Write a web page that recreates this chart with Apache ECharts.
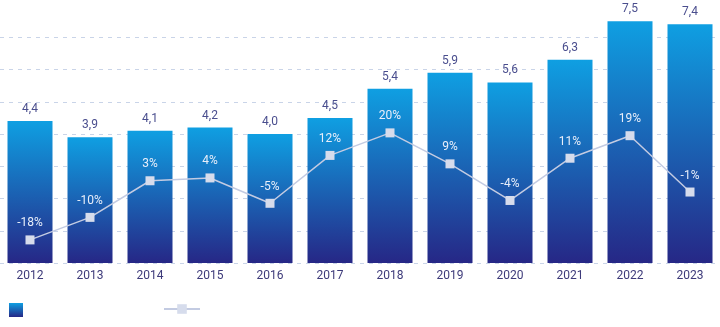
<!DOCTYPE html>
<html><head><meta charset="utf-8">
<script src="https://cdn.jsdelivr.net/npm/echarts@6/dist/echarts.min.js"></script>
<style>html,body{margin:0;padding:0;background:#fff}#c{width:720px;height:327px}</style>
</head><body><div id="c"></div>
<script>
const years = ['2012','2013','2014','2015','2016','2017','2018','2019','2020','2021','2022','2023'];
const volumes = [4.4, 3.9, 4.1, 4.2, 4.0, 4.5, 5.4, 5.9, 5.6, 6.3, 7.5, 7.4];
const growth = [-18, -10, 3, 4, -5, 12, 20, 9, -4, 11, 19, -1];

const chart = echarts.init(document.getElementById('c'), null, {renderer: 'canvas'});
const gridColors = ['#c9d4e8','#c9d4e8','#c9d4e8','#c9d4e8','#c9d4e8','#c9d4e8','#c9d4e8','#c9d4e8','rgba(0,0,0,0)'];
chart.setOption({
  animation: false,
  grid: {left: 0, right: 0, top: 5, bottom: 64, containLabel: false},
  legend: [
    {data: ['vol'], left: 4, top: 298, itemWidth: 14, itemHeight: 14, formatter: () => '', icon: 'rect'},
    {data: ['gr'], left: 158, top: 298, itemWidth: 36, itemHeight: 12, formatter: () => ''}
  ],
  xAxis: {
    type: 'category', data: years,
    axisLine: {show: false}, axisTick: {show: false},
    axisLabel: {color: '#3d3a7a', fontSize: 12, fontFamily: 'Roboto', margin: 7}
  },
  yAxis: [
    {type: 'value', min: 0, max: 8, interval: 1, show: true,
     axisLine: {show: false}, axisTick: {show: false}, axisLabel: {show: false},
     splitLine: {show: true, lineStyle: {type: [4, 5], color: gridColors, width: 1}}},
    {type: 'value', min: -26.2, max: 65.4, show: false, splitLine: {show: false}}
  ],
  series: [
    {
      name: 'vol', type: 'bar', data: volumes, barWidth: 45,
      itemStyle: {color: new echarts.graphic.LinearGradient(0, 0, 0, 1, [
        {offset: 0, color: '#0f9fe2'}, {offset: 1, color: '#262786'}])},
      label: {show: true, position: 'top', distance: 6, color: '#4a4e8e', fontSize: 12,
        fontFamily: 'Roboto', formatter: p => String(p.value).replace('.', ',').replace(/^(\d)$/, '$1,0')}
    },
    {
      name: 'gr', type: 'line', yAxisIndex: 1, data: growth, z: 5,
      symbol: 'rect', symbolSize: 9,
      lineStyle: {color: '#c3cbe2', width: 1.5},
      itemStyle: {color: '#d6dcec'},
      label: {show: true, position: 'top', distance: 6, color: '#e8eefa', fontSize: 12,
        fontFamily: 'Roboto', formatter: p => p.value + '%'}
    }
  ]
});
</script></body></html>
